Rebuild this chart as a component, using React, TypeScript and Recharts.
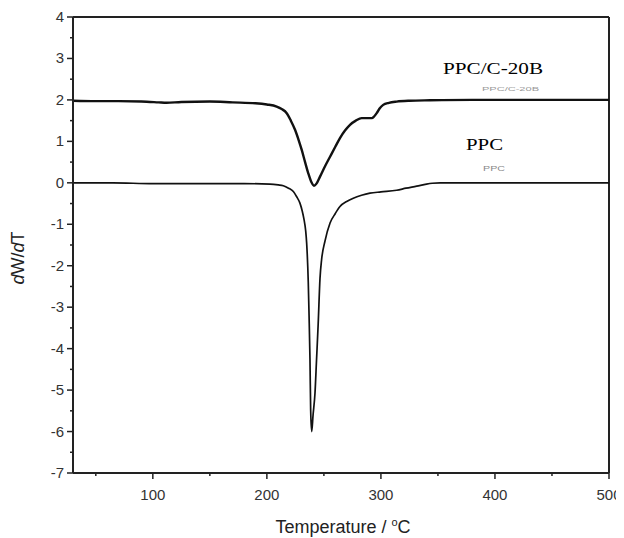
import React from 'react';
import { Line, LineChart, ReferenceLine, XAxis, YAxis } from 'recharts';

// PPC/C-20B composite (upper curve, offset by +2)
const compTemp = [
  30, 50, 70, 90, 105, 112, 125, 150, 170, 190, 200, 208.6, 213, 217.4, 221, 224.7, 228, 230.5, 233.5,
  236.3, 239, 241.3, 243.5, 246.6, 251, 255.4, 260, 264.1, 268.5, 272.9, 278, 283.1, 288, 292, 294,
  296.3, 299, 302, 307, 313.8, 325, 343, 380, 420, 460, 500,
];
const compDw = [
  1.98, 1.97, 1.97, 1.96, 1.94, 1.93, 1.95, 1.96, 1.94, 1.92, 1.89, 1.84, 1.78, 1.68, 1.5, 1.28, 1.02, 0.8,
  0.5, 0.23, 0.02, -0.07, -0.02, 0.15, 0.4, 0.63, 0.87, 1.08, 1.26, 1.4, 1.5, 1.56, 1.56, 1.56, 1.6, 1.68,
  1.8, 1.88, 1.93, 1.96, 1.98, 1.99, 2.0, 2.0, 2.0, 2.0,
];

// neat PPC (lower curve)
const ppcTemp = [
  30, 65, 100, 150, 180, 202.7, 210, 214.4, 219, 223.2, 226, 229, 231, 232.6, 234, 234.9, 236.3, 237,
  237.8, 238.4, 239.3, 240.5, 242.2, 243.5, 245, 246.6, 248, 251, 255.4, 260, 264.1, 270, 275.8, 283,
  290.4, 300, 313.8, 322, 331.4, 340, 345, 352, 380, 420, 460, 500,
];
const ppcDw = [
  0, 0, -0.02, -0.02, -0.02, -0.03, -0.05, -0.07, -0.13, -0.21, -0.33, -0.49, -0.68, -0.89, -1.15, -1.46,
  -2.4, -3.2, -4.27, -5.48, -6.0, -5.6, -5.07, -4.3, -3.4, -2.3, -1.85, -1.4, -0.97, -0.74, -0.57, -0.45,
  -0.37, -0.3, -0.25, -0.22, -0.18, -0.13, -0.08, -0.03, -0.01, 0, 0, 0, 0, 0,
];

const xTicks = [50, 100, 150, 200, 250, 300, 350, 400, 450, 500];
const yTicks = [-7, -6.5, -6, -5.5, -5, -4.5, -4, -3.5, -3, -2.5, -2, -1.5, -1, -0.5, 0, 0.5, 1, 1.5, 2, 2.5, 3, 3.5, 4];

const compData = compTemp.map((t, i) => ({ t, v: compDw[i] }));
const ppcData = ppcTemp.map((t, i) => ({ t, v: ppcDw[i] }));

const AXIS = '#222';
const SANS = '"Liberation Sans", Arial, sans-serif';
const SERIF = '"Liberation Serif", "Times New Roman", serif';

function XTick(props: any) {
  const { x, y, payload } = props;
  const major = payload.value % 100 === 0;
  return (
    <g>
      <line x1={x} x2={x} y1={y} y2={y + (major ? 6 : 3)} stroke={AXIS} strokeWidth={1.5} />
      {major && (
        <text x={x} y={y + 27} textAnchor="middle" fontFamily={SANS} fontSize={15} fill="#333">
          {payload.value}
        </text>
      )}
    </g>
  );
}

function YTick(props: any) {
  const { x, y, payload } = props;
  const major = Number.isInteger(payload.value);
  return (
    <g>
      <line x1={x} x2={x - (major ? 6 : 3)} y1={y} y2={y} stroke={AXIS} strokeWidth={1.5} />
      {major && (
        <text x={x - 9} y={y + 5} textAnchor="end" fontFamily={SANS} fontSize={15} fill="#333">
          {payload.value}
        </text>
      )}
    </g>
  );
}

export default function App() {
  return (
    <div style={{ position: 'relative', width: 616, height: 530 }}>
      <LineChart width={616} height={530} data={ppcData} margin={{ top: 9, right: 15, bottom: 0, left: 15 }}>
        <XAxis
          dataKey="t"
          type="number"
          domain={[30, 500]}
          allowDataOverflow
          ticks={xTicks}
          interval={0}
          height={65}
          tickSize={0}
          tickMargin={0}
          tickLine={false}
          tick={<XTick />}
          axisLine={{ stroke: AXIS, strokeWidth: 2 }}
        />
        <YAxis
          type="number"
          domain={[-7, 4]}
          ticks={yTicks}
          interval={0}
          width={50}
          tickSize={0}
          tickMargin={0}
          tickLine={false}
          tick={<YTick />}
          axisLine={{ stroke: AXIS, strokeWidth: 2 }}
        />
        <ReferenceLine y={4} stroke={AXIS} strokeWidth={2} />
        <ReferenceLine x={500} stroke={AXIS} strokeWidth={2} />
        <Line
          data={ppcData}
          dataKey="v"
          type="monotone"
          stroke="#111"
          strokeWidth={1.7}
          dot={false}
          isAnimationActive={false}
        />
        <Line
          data={compData}
          dataKey="v"
          type="monotone"
          stroke="#111"
          strokeWidth={2.4}
          dot={false}
          isAnimationActive={false}
        />
      </LineChart>
      <svg width={616} height={530} style={{ position: 'absolute', left: 0, top: 0, pointerEvents: 'none' }}>
        <text x={435} y={66} fontFamily={SERIF} fontSize={17} textLength={100} lengthAdjust="spacingAndGlyphs" fill="#000">
          PPC/C-20B
        </text>
        <text x={474} y={83} fontFamily={SANS} fontSize={6} textLength={57} lengthAdjust="spacingAndGlyphs" fill="#999">
          PPC/C-20B
        </text>
        <text x={458} y={142} fontFamily={SERIF} fontSize={17} textLength={37} lengthAdjust="spacingAndGlyphs" fill="#000">
          PPC
        </text>
        <text x={475} y={163} fontFamily={SANS} fontSize={7} textLength={22} lengthAdjust="spacingAndGlyphs" fill="#888">
          PPC
        </text>
        <text x={335} y={525} textAnchor="middle" fontFamily={SANS} fontSize={18} fill="#222">
          Temperature / <tspan dy={-7} fontSize={11}>o</tspan>
          <tspan dy={7}>C</tspan>
        </text>
        <text
          x={10}
          y={250}
          transform="rotate(-90 10 250)"
          textAnchor="middle"
          dominantBaseline="central"
          fontFamily={SANS}
          fontSize={18}
          fill="#222"
        >
          <tspan fontStyle="italic">d</tspan>W/<tspan fontStyle="italic">d</tspan>T
        </text>
      </svg>
    </div>
  );
}
